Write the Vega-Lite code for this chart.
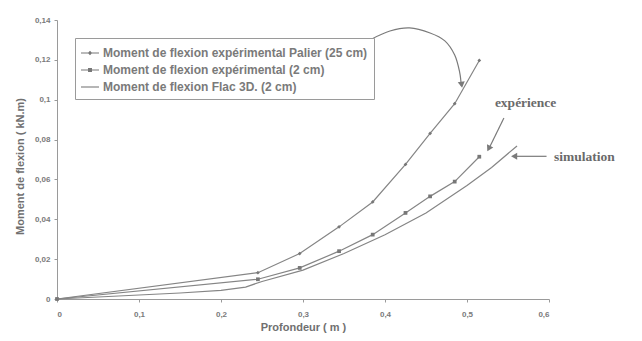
{
  "$schema": "https://vega.github.io/schema/vega-lite/v6.json",
  "width": 492,
  "height": 279,
  "autosize": {"type": "none"},
  "padding": {"left": 57, "top": 20, "right": 93, "bottom": 42},
  "background": "white",
  "config": {
    "view": {"stroke": null},
    "font": "Liberation Sans",
    "axis": {
      "grid": false,
      "domainColor": "#9a9a9a",
      "tickColor": "#9a9a9a",
      "labelColor": "#7a7a7a",
      "titleColor": "#707070",
      "labelFont": "Liberation Sans",
      "titleFont": "Liberation Sans",
      "labelFontSize": 8,
      "labelFontWeight": "bold",
      "titleFontSize": 11,
      "titleFontWeight": "bold",
      "tickSize": 3
    }
  },
  "datasets": {
    "curves": [
      {"serie": "Moment de flexion expérimental Palier (25 cm)", "profondeur": 0, "moment": 0},
      {"serie": "Moment de flexion expérimental Palier (25 cm)", "profondeur": 0.245, "moment": 0.0132},
      {"serie": "Moment de flexion expérimental Palier (25 cm)", "profondeur": 0.296, "moment": 0.0228},
      {"serie": "Moment de flexion expérimental Palier (25 cm)", "profondeur": 0.344, "moment": 0.0362},
      {"serie": "Moment de flexion expérimental Palier (25 cm)", "profondeur": 0.385, "moment": 0.0487},
      {"serie": "Moment de flexion expérimental Palier (25 cm)", "profondeur": 0.425, "moment": 0.0675},
      {"serie": "Moment de flexion expérimental Palier (25 cm)", "profondeur": 0.455, "moment": 0.0831},
      {"serie": "Moment de flexion expérimental Palier (25 cm)", "profondeur": 0.485, "moment": 0.098},
      {"serie": "Moment de flexion expérimental Palier (25 cm)", "profondeur": 0.515, "moment": 0.1197},
      {"serie": "Moment de flexion expérimental (2 cm)", "profondeur": 0, "moment": 0},
      {"serie": "Moment de flexion expérimental (2 cm)", "profondeur": 0.245, "moment": 0.0099},
      {"serie": "Moment de flexion expérimental (2 cm)", "profondeur": 0.296, "moment": 0.0156},
      {"serie": "Moment de flexion expérimental (2 cm)", "profondeur": 0.344, "moment": 0.024},
      {"serie": "Moment de flexion expérimental (2 cm)", "profondeur": 0.385, "moment": 0.0323},
      {"serie": "Moment de flexion expérimental (2 cm)", "profondeur": 0.425, "moment": 0.0432},
      {"serie": "Moment de flexion expérimental (2 cm)", "profondeur": 0.455, "moment": 0.0515},
      {"serie": "Moment de flexion expérimental (2 cm)", "profondeur": 0.485, "moment": 0.0589},
      {"serie": "Moment de flexion expérimental (2 cm)", "profondeur": 0.515, "moment": 0.0714},
      {"serie": "Moment de flexion Flac 3D. (2 cm)", "profondeur": 0, "moment": 0},
      {"serie": "Moment de flexion Flac 3D. (2 cm)", "profondeur": 0.05, "moment": 0.001},
      {"serie": "Moment de flexion Flac 3D. (2 cm)", "profondeur": 0.1, "moment": 0.002},
      {"serie": "Moment de flexion Flac 3D. (2 cm)", "profondeur": 0.15, "moment": 0.003},
      {"serie": "Moment de flexion Flac 3D. (2 cm)", "profondeur": 0.2, "moment": 0.0043},
      {"serie": "Moment de flexion Flac 3D. (2 cm)", "profondeur": 0.23, "moment": 0.006},
      {"serie": "Moment de flexion Flac 3D. (2 cm)", "profondeur": 0.25, "moment": 0.0088},
      {"serie": "Moment de flexion Flac 3D. (2 cm)", "profondeur": 0.3, "moment": 0.0145},
      {"serie": "Moment de flexion Flac 3D. (2 cm)", "profondeur": 0.35, "moment": 0.0228},
      {"serie": "Moment de flexion Flac 3D. (2 cm)", "profondeur": 0.4, "moment": 0.0322},
      {"serie": "Moment de flexion Flac 3D. (2 cm)", "profondeur": 0.45, "moment": 0.0432},
      {"serie": "Moment de flexion Flac 3D. (2 cm)", "profondeur": 0.5, "moment": 0.057},
      {"serie": "Moment de flexion Flac 3D. (2 cm)", "profondeur": 0.53, "moment": 0.066},
      {"serie": "Moment de flexion Flac 3D. (2 cm)", "profondeur": 0.561, "moment": 0.0768}
    ],
    "arrows": [
      {"fleche": "courbe", "ordre": 1, "profondeur": 0.384, "moment": 0.1305},
      {"fleche": "courbe", "ordre": 2, "profondeur": 0.406, "moment": 0.1345},
      {"fleche": "courbe", "ordre": 3, "profondeur": 0.43, "moment": 0.136},
      {"fleche": "courbe", "ordre": 4, "profondeur": 0.455, "moment": 0.1335},
      {"fleche": "courbe", "ordre": 5, "profondeur": 0.473, "moment": 0.1295},
      {"fleche": "courbe", "ordre": 6, "profondeur": 0.485, "moment": 0.1224},
      {"fleche": "courbe", "ordre": 7, "profondeur": 0.491, "moment": 0.1139},
      {"fleche": "courbe", "ordre": 8, "profondeur": 0.493, "moment": 0.107},
      {"fleche": "experience", "ordre": 1, "profondeur": 0.545, "moment": 0.0908},
      {"fleche": "experience", "ordre": 2, "profondeur": 0.528, "moment": 0.0765},
      {"fleche": "simulation", "ordre": 1, "profondeur": 0.597, "moment": 0.0716},
      {"fleche": "simulation", "ordre": 2, "profondeur": 0.56, "moment": 0.0716}
    ],
    "heads": [
      {"fleche": "courbe", "profondeur": 0.4935, "moment": 0.1075},
      {"fleche": "experience", "profondeur": 0.5265, "moment": 0.0755},
      {"fleche": "simulation", "profondeur": 0.5575, "moment": 0.0716}
    ],
    "notes": [
      {"texte": "expérience", "profondeur": 0.534, "moment": 0.0983},
      {"texte": "simulation", "profondeur": 0.606, "moment": 0.0712}
    ]
  },
  "encoding": {
    "x": {
      "field": "profondeur",
      "type": "quantitative",
      "scale": {"domain": [0, 0.6], "nice": false, "zero": false},
      "axis": {
        "title": "Profondeur ( m )",
        "values": [0, 0.1, 0.2, 0.3, 0.4, 0.5, 0.6],
        "labelExpr": "replace(format(datum.value, '~g'), '.', ',')",
        "labelPadding": 8,
        "titleY": 28,
        "titleBaseline": "middle"
      }
    },
    "y": {
      "field": "moment",
      "type": "quantitative",
      "scale": {"domain": [0, 0.14], "nice": false, "zero": false},
      "axis": {
        "title": "Moment de flexion ( kN.m)",
        "values": [0, 0.02, 0.04, 0.06, 0.08, 0.1, 0.12, 0.14],
        "labelExpr": "replace(format(datum.value, '~g'), '.', ',')",
        "labelPadding": 4,
        "titleX": -37,
        "titleY": 146,
        "titleBaseline": "middle"
      }
    }
  },
  "layer": [
    {
      "data": {"name": "curves"},
      "mark": {"type": "line", "color": "#858585", "strokeWidth": 1.2},
      "encoding": {"detail": {"field": "serie", "type": "nominal"}}
    },
    {
      "data": {"name": "curves"},
      "transform": [{"filter": "datum.serie != 'Moment de flexion Flac 3D. (2 cm)'"}],
      "mark": {"type": "point", "filled": true, "color": "#777777", "size": 14, "opacity": 1},
      "encoding": {
        "shape": {
          "field": "serie",
          "type": "nominal",
          "scale": {
            "domain": ["Moment de flexion expérimental Palier (25 cm)", "Moment de flexion expérimental (2 cm)"],
            "range": ["diamond", "square"]
          },
          "legend": null
        }
      }
    },
    {
      "data": {"name": "curves"},
      "transform": [{"filter": "datum.serie != 'Moment de flexion Flac 3D. (2 cm)'"}],
      "mark": {"type": "point", "filled": true, "fill": "#777777", "opacity": 0},
      "encoding": {
        "shape": {
          "field": "serie",
          "type": "nominal",
          "scale": {
            "domain": ["Moment de flexion expérimental Palier (25 cm)", "Moment de flexion expérimental (2 cm)", "Moment de flexion Flac 3D. (2 cm)"],
            "range": [
              "M-1,-0.06H1V0.06H-1ZM0,-0.24L0.24,0L0,0.24L-0.24,0Z",
              "M-1,-0.06H1V0.06H-1ZM-0.22,-0.22H0.22V0.22H-0.22Z",
              "M-1,-0.06H1V0.06H-1Z"
            ]
          },
          "legend": {
            "title": null,
            "orient": "none",
            "legendX": 18,
            "legendY": 18,
            "symbolSize": 324,
            "symbolStrokeWidth": 0,
            "symbolFillColor": "#777777",
            "symbolOpacity": 1,
            "labelFont": "Liberation Sans",
            "labelFontSize": 12,
            "labelFontWeight": "bold",
            "labelColor": "#7a7a7a",
            "labelLimit": 400,
            "labelOffset": 4,
            "strokeColor": "#9a9a9a",
            "fillColor": "white",
            "padding": 6,
            "rowPadding": 2,
            "encode": {
              "symbols": {
                "update": {
                  "fill": {"value": "#777777"},
                  "opacity": {"value": 1},
                  "fillOpacity": {"value": 1}
                }
              }
            }
          }
        }
      }
    },
    {
      "data": {"name": "arrows"},
      "mark": {"type": "line", "color": "#7a7a7a", "strokeWidth": 1.2, "interpolate": "cardinal"},
      "encoding": {
        "detail": {"field": "fleche", "type": "nominal"},
        "order": {"field": "ordre", "type": "quantitative"}
      }
    },
    {
      "data": {"name": "heads"},
      "transform": [{"filter": "datum.fleche == 'courbe'"}],
      "mark": {"type": "point", "shape": "triangle-down", "filled": true, "color": "#7a7a7a", "size": 50, "angle": -8, "opacity": 1}
    },
    {
      "data": {"name": "heads"},
      "transform": [{"filter": "datum.fleche == 'experience'"}],
      "mark": {"type": "point", "shape": "triangle-down", "filled": true, "color": "#7a7a7a", "size": 50, "angle": 27, "opacity": 1}
    },
    {
      "data": {"name": "heads"},
      "transform": [{"filter": "datum.fleche == 'simulation'"}],
      "mark": {"type": "point", "shape": "triangle-left", "filled": true, "color": "#7a7a7a", "size": 50, "opacity": 1}
    },
    {
      "data": {"name": "notes"},
      "mark": {"type": "text", "font": "Liberation Serif", "fontWeight": "bold", "fontSize": 13.5, "color": "#6a6a6a", "align": "left", "baseline": "middle"},
      "encoding": {"text": {"field": "texte", "type": "nominal"}}
    }
  ],
  "resolve": {"scale": {"shape": "independent"}, "legend": {"shape": "independent"}}
}
